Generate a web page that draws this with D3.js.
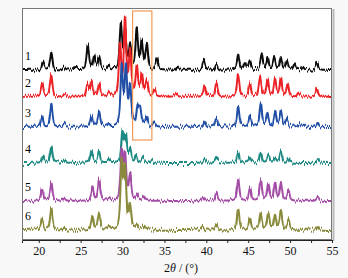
<!DOCTYPE html>
<html>
<head>
<meta charset="utf-8">
<script src="https://cdn.jsdelivr.net/npm/d3@7"></script>
<style>
  html, body { margin: 0; padding: 0; background: #f8f8f8; }
  svg { display: block; }
  svg text { font-family: "Liberation Serif", "Times New Roman", serif !important; }
</style>
</head>
<body>
<svg id="chart" width="348" height="278"></svg>
<script>
// sample names (labels on the left)
var sampleLabels = ["1", "2", "3", "4", "5", "6"];
var sampleColors = ["#111111", "#ec2227", "#2450a6", "#1f8a82", "#a44ea6", "#8a8a3c"];

// vertical offset of each pattern (a.u.)
var offsets = [170, 143, 113, 77, 39, 10];

// peak lists: [2theta, intensity (a.u.)]
var peaks1 = [[20.5, 8], [21.5, 17], [23.0, 3], [24.4, 3], [25.85, 24], [26.6, 13], [27.2, 13], [28.3, 4],
  [29.8, 44], [30.3, 36], [30.9, 24], [31.7, 40], [32.3, 27], [32.9, 25], [34.1, 11], [36.5, 3],
  [39.7, 10], [41.2, 6], [43.8, 15], [44.6, 6], [45.2, 8], [46.6, 15], [47.3, 12], [48.1, 12],
  [48.9, 12], [49.6, 9], [50.5, 6], [51.5, 3], [53.2, 7]];
var peaks2 = [[20.4, 13], [21.5, 22], [23.1, 3], [25.8, 12], [26.3, 15], [27.2, 13], [28.4, 4],
  [29.7, 50], [30.3, 76], [30.9, 44], [31.7, 28], [32.3, 22], [32.9, 15], [33.8, 7], [36.4, 3],
  [39.8, 10], [41.2, 15], [43.8, 22], [45.2, 13], [46.4, 20], [47.3, 17], [48.2, 17],
  [48.9, 19], [49.7, 12], [51.0, 4], [53.2, 8]];
var peaks3 = [[20.4, 11], [21.5, 22], [23.0, 3], [26.3, 11], [27.2, 15], [28.4, 3],
  [29.9, 60], [30.4, 58], [30.9, 38], [31.8, 19], [32.1, 15], [32.9, 9], [33.8, 4],
  [39.8, 6], [41.2, 9], [43.8, 20], [45.2, 11], [46.5, 23], [47.3, 13], [48.2, 15],
  [48.9, 15], [49.6, 8], [51.0, 3], [53.3, 4]];
var peaks4 = [[20.5, 7], [21.5, 16], [23.0, 3], [26.3, 12], [27.2, 11], [28.4, 3],
  [30.0, 30], [30.4, 25], [30.9, 13], [31.6, 7], [32.4, 5], [33.5, 3],
  [39.8, 4], [41.2, 5], [43.8, 11], [45.2, 5], [46.5, 10], [47.4, 7], [48.2, 5],
  [48.9, 11], [49.8, 5], [53.3, 4]];
var peaks5 = [[20.4, 12], [21.5, 18], [23.0, 3], [26.4, 13], [27.2, 21], [28.4, 3],
  [29.9, 48], [30.3, 44], [30.9, 25], [31.7, 6], [32.5, 4],
  [39.6, 4], [41.2, 8], [43.8, 22], [45.2, 13], [46.5, 21], [47.4, 16], [48.2, 18],
  [48.9, 18], [49.8, 10], [53.3, 4]];
var peaks6 = [[20.4, 11], [21.5, 21], [23.0, 3], [26.4, 14], [27.2, 15], [28.4, 3],
  [29.9, 66], [30.3, 60], [30.9, 23], [31.7, 5], [32.5, 4],
  [39.6, 4], [41.2, 6], [43.8, 21], [45.2, 12], [46.5, 16], [47.4, 16], [48.2, 15],
  [48.9, 19], [49.8, 10], [53.3, 4]];
var allPeaks = [peaks1, peaks2, peaks3, peaks4, peaks5, peaks6];

var xTicks = [20, 25, 30, 35, 40, 45, 50, 55];
var xMinorTicks = [22.5, 27.5, 32.5, 37.5, 42.5, 47.5, 52.5];
var xRange = [18, 55];
// highlighted 2theta window (orange box)
var boxX = [31.2, 33.5];
var boxY = [100, 229];

var margin = {left: 22, top: 8, right: 16, bottom: 38};
var W = 348, H = 278;

var svg = d3.select("#chart");
var defs = svg.append("defs");

// noisy look of the measured lines: fine vertical jitter only
var f = defs.append("filter").attr("id", "fuzz")
  .attr("x", "-2%").attr("y", "-10%").attr("width", "104%").attr("height", "120%");
f.append("feTurbulence").attr("type", "fractalNoise").attr("baseFrequency", "1.6 0.02")
  .attr("numOctaves", 1).attr("seed", 7).attr("result", "t");
f.append("feColorMatrix").attr("in", "t").attr("type", "matrix")
  .attr("values", "0 0 0 0 0.5  0 1.8 0 0 -0.4  0 0 0 0 0  0 0 0 0 1").attr("result", "m");
f.append("feDisplacementMap").attr("in", "SourceGraphic").attr("in2", "m")
  .attr("scale", 5).attr("xChannelSelector", "R").attr("yChannelSelector", "G");

defs.append("clipPath").attr("id", "clip").append("rect")
  .attr("x", margin.left).attr("y", margin.top)
  .attr("width", W - margin.left - margin.right).attr("height", H - margin.top - margin.bottom);

var x = d3.scaleLinear().domain(xRange).range([margin.left, W - margin.right]);
var y = d3.scaleLinear().domain([0, 232]).range([H - margin.bottom, margin.top]);

// plot area
svg.append("rect")
  .attr("x", margin.left).attr("y", margin.top)
  .attr("width", W - margin.left - margin.right).attr("height", H - margin.top - margin.bottom)
  .attr("fill", "#ffffff");

// profile of each peak (pseudo-voigt like)
function profile(list, t) {
  var s = 0;
  list.forEach(function(p) {
    var w = 0.17;
    var d = (t - p[0]) / w;
    s += p[1] * (0.6 / (1 + d * d) + 0.4 * Math.exp(-0.69 * d * d));
  });
  return s;
}

var grid = d3.range(xRange[0], xRange[1] + 0.0001, 0.02);

var line = d3.line()
  .x(function(d) { return x(d[0]); })
  .y(function(d) { return y(d[1]); });

var g = svg.append("g").attr("clip-path", "url(#clip)");
// top pattern first, lower patterns are drawn over it
for (var i = 0; i < allPeaks.length; i++) {
  var pts = grid.map(function(t) { return [t, offsets[i] + profile(allPeaks[i], t)]; });
  g.append("path")
    .datum(pts)
    .attr("d", line)
    .attr("fill", "none")
    .attr("stroke", sampleColors[i])
    .attr("stroke-width", 2)
    .attr("stroke-linejoin", "round")
    .attr("filter", "url(#fuzz)");
}

// orange box
svg.append("rect")
  .attr("x", x(boxX[0])).attr("y", y(boxY[1]))
  .attr("width", x(boxX[1]) - x(boxX[0])).attr("height", y(boxY[0]) - y(boxY[1]))
  .attr("fill", "none").attr("stroke", "#f29a55").attr("stroke-width", 1.2);

// labels
svg.selectAll(".lab")
  .data(sampleLabels)
  .join("text")
  .attr("class", "lab")
  .attr("x", 28)
  .attr("y", function(d, i) { return y(offsets[i] + 7) - 3; })
  .attr("text-anchor", "middle")
  .attr("font-size", 12)
  .attr("fill", "#000")
  .text(function(d) { return d; });

// frame
svg.append("rect")
  .attr("x", margin.left + 0.5).attr("y", margin.top + 0.5)
  .attr("width", W - margin.left - margin.right - 1).attr("height", H - margin.top - margin.bottom - 1)
  .attr("fill", "none").attr("stroke", "#777").attr("stroke-width", 1);
svg.append("line")
  .attr("x1", W - margin.right + 1.5).attr("x2", W - margin.right + 1.5)
  .attr("y1", margin.top + 1).attr("y2", H - margin.bottom + 1)
  .attr("stroke", "#bbb").attr("stroke-width", 2);

// x axis
var axisY = H - margin.bottom;
var xAxis = d3.axisBottom(x).tickValues(xTicks).tickSize(3).tickPadding(3).tickFormat(d3.format("d"));
var ax = svg.append("g").attr("transform", "translate(0," + axisY + ")").call(xAxis);
ax.attr("font-family", null);
ax.select(".domain").attr("stroke", "#222");
ax.selectAll(".tick line").attr("stroke", "#222");
ax.selectAll(".tick text").attr("font-size", 12).attr("fill", "#111");
svg.append("g").attr("transform", "translate(0," + axisY + ")")
  .call(d3.axisBottom(x).tickValues(xMinorTicks).tickSize(3).tickFormat(""))
  .call(function(s) { s.select(".domain").remove(); s.selectAll("line").attr("stroke", "#222"); });

// axis title
var title = svg.append("text")
  .attr("x", 181).attr("y", 272)
  .attr("text-anchor", "middle")
  .attr("font-size", 12)
  .attr("fill", "#111");
title.append("tspan").text("2");
title.append("tspan").attr("font-style", "italic").text("θ");
title.append("tspan").text(" / (°)");
</script>
</body>
</html>
